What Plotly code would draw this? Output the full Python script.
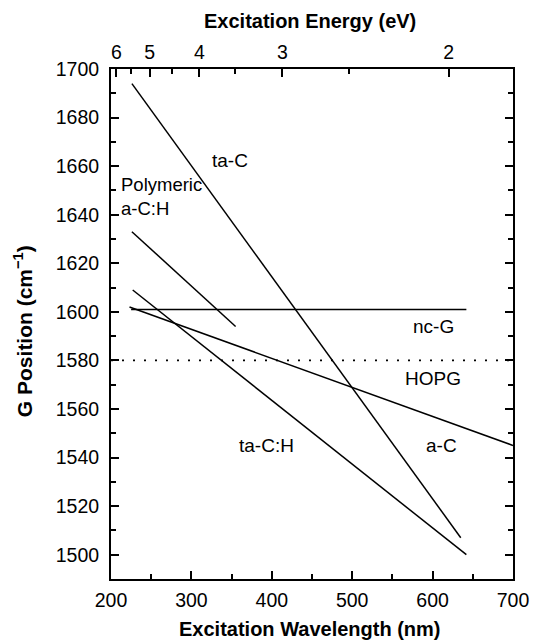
import plotly.graph_objects as go

# G-peak position versus excitation wavelength for several carbon types
names = ["ta-C", "Polymeric a-C:H", "ta-C:H", "a-C", "nc-G"]
wl_start = [226, 226, 227, 223, 225]
wl_end = [635, 355, 642, 700, 642]
g_start = [1694, 1633, 1609, 1602, 1601]
g_end = [1507, 1594, 1500, 1545, 1601]

hopg_g = 1580  # graphite reference

# top axis: excitation energy in eV
energy_major = [6, 5, 4, 3, 2]
energy_minor = [5.5, 4.5, 3.5, 2.5]
HC = 1239.84  # eV*nm

FONT = "Liberation Sans, Arial, sans-serif"

fig = go.Figure()
for n, x0, x1, y0, y1 in zip(names, wl_start, wl_end, g_start, g_end):
    fig.add_trace(go.Scatter(x=[x0, x1], y=[y0, y1], mode="lines",
                             line=dict(color="black", width=1.5),
                             name=n, showlegend=False, hoverinfo="skip"))

fig.add_trace(go.Scatter(x=[200, 700], y=[hopg_g, hopg_g], mode="lines",
                         line=dict(color="black", width=1.8, dash="2px,9px"),
                         name="HOPG", showlegend=False, hoverinfo="skip"))

# invisible trace so the top energy axis is drawn
fig.add_trace(go.Scatter(x=[200, 700], y=[1600, 1600], xaxis="x2", mode="lines",
                         line=dict(width=0), showlegend=False, hoverinfo="skip"))

tick_font = dict(family=FONT, size=19.5, color="black")

fig.update_layout(
    width=541, height=642,
    margin=dict(l=111, r=22, t=69, b=63),
    paper_bgcolor="white", plot_bgcolor="white",
    xaxis=dict(range=[200, 700], tickvals=[200, 300, 400, 500, 600, 700],
               ticks="inside", ticklen=8, tickwidth=1.5, tickcolor="black",
               minor=dict(dtick=50, ticks="inside", ticklen=5, tickwidth=1.5, tickcolor="black"),
               showline=True, linecolor="black", linewidth=2, mirror=False,
               showgrid=False, zeroline=False, tickfont=tick_font,
               ticklabelstandoff=3),
    xaxis2=dict(range=[200, 700], overlaying="x", side="top",
                tickvals=[HC / e for e in energy_major],
                ticktext=[str(e) for e in energy_major],
                ticks="inside", ticklen=8, tickwidth=1.5, tickcolor="black",
                minor=dict(tickvals=[HC / e for e in energy_minor], ticks="inside",
                           ticklen=5, tickwidth=1.5, tickcolor="black"),
                showline=True, linecolor="black", linewidth=2,
                showgrid=False, zeroline=False, tickfont=tick_font),
    yaxis=dict(range=[1490, 1700], dtick=20, tick0=1500,
               ticks="inside", ticklen=8, tickwidth=1.5, tickcolor="black",
               minor=dict(dtick=10, ticks="inside", ticklen=5, tickwidth=1.5, tickcolor="black"),
               showline=True, linecolor="black", linewidth=2, mirror="ticks",
               showgrid=False, zeroline=False, tickfont=tick_font,
               ticklabelstandoff=6),
)

label_font = dict(family=FONT, size=19, color="black")
title_font = dict(family=FONT, size=20, color="black")

annots = [
    dict(x=348, y=1662.5, text="ta-C", xanchor="center"),
    dict(x=210, y=1647.5, text="Polymeric<br>a-C:H", xanchor="left", align="left",
         font=dict(family=FONT, size=18.5, color="black")),
    dict(x=601, y=1594, text="nc-G", xanchor="center"),
    dict(x=601, y=1572.5, text="HOPG", xanchor="center"),
    dict(x=611, y=1545, text="a-C", xanchor="center"),
    dict(x=393, y=1545, text="ta-C:H", xanchor="center"),
]
for a in annots:
    a.setdefault("font", label_font)
    fig.add_annotation(xref="x", yref="y", showarrow=False, **a)

fig.add_annotation(xref="paper", yref="paper", x=0.495, y=1, yshift=48,
                   text="<b>Excitation Energy (eV)</b>", showarrow=False,
                   font=title_font, xanchor="center", yanchor="middle")
fig.add_annotation(xref="paper", yref="paper", x=0.495, y=0, yshift=-50,
                   text="<b>Excitation Wavelength (nm)</b>", showarrow=False,
                   font=title_font, xanchor="center", yanchor="middle")
fig.add_annotation(xref="paper", yref="paper", x=0, y=0.486, xshift=-88,
                   text="<b>G Position (cm<sup>−1</sup>)</b>", showarrow=False,
                   textangle=-90, font=dict(family=FONT, size=21, color="black"),
                   xanchor="center", yanchor="middle")

fig.write_html("out.html")
